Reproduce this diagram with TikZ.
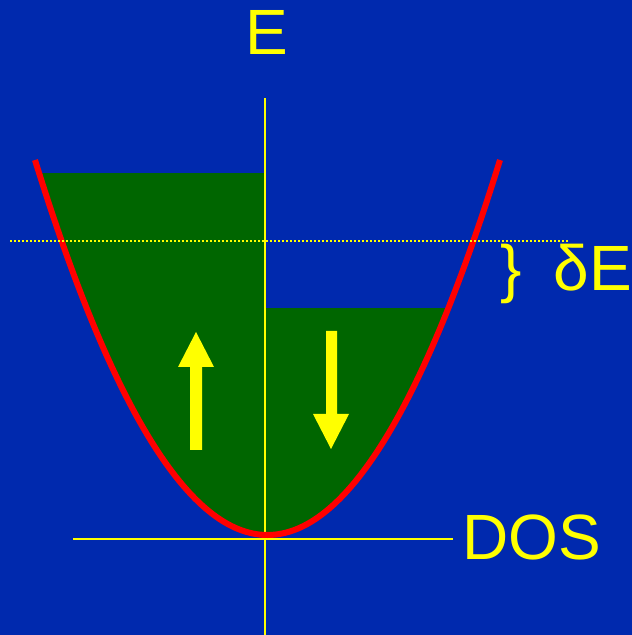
\documentclass[tikz,border=0pt]{standalone}
\usepackage{fontspec}
\setmainfont{Liberation Sans}
\definecolor{bgblue}{RGB}{0,41,174}
\definecolor{fillgreen}{RGB}{0,102,0}
\definecolor{ylw}{RGB}{255,255,0}
\definecolor{rd}{RGB}{255,0,0}
\begin{document}
\begin{tikzpicture}[x=1pt,y=1pt,
  bigtext/.style={text=ylw,font=\fontsize{64}{64}\selectfont,inner sep=0pt},
  yline/.style={draw=ylw},
  spinarrow/.style={fill=ylw,draw=none}]
\fill[bgblue] (0,0) rectangle (632,635);
\useasboundingbox (0,0) rectangle (632,635);
% green filled states, clipped by the parabola
\begin{scope}
  \clip (35,475) .. controls (190,-25) and (345,-25) .. (500,475) -- cycle;
  \fill[fillgreen] (0,0) rectangle (265,462);
  \fill[fillgreen] (265,0) rectangle (632,327);
\end{scope}
% axes
\draw[yline,line width=1.5pt] (265,0) -- (265,537);
\draw[yline,line width=2.5pt] (73,96) -- (453,96);
% parabola
\draw[rd,line width=6pt] (35,475) .. controls (190,-25) and (345,-25) .. (500,475);
% dotted Fermi level
\draw[ylw,line width=2pt,dash pattern=on 2pt off 2pt] (10,394) -- (568,394);
% spin arrows
\fill[spinarrow] (190,185) -- (202,185) -- (202,268) -- (214,268) -- (196,303) -- (178,268) -- (190,268) -- cycle;
\fill[spinarrow] (326,304) -- (337,304) -- (337,221) -- (349,221) -- (331,186) -- (313,221) -- (326,221) -- cycle;
% labels
\node[bigtext,anchor=base] (E) at (266.5,580) {E};
\node[bigtext,anchor=base west] (dos) at (462,75) {DOS};
\node[bigtext,anchor=base west] (dE) at (500,344) {\}\hspace{32pt}δE};
\end{tikzpicture}
\end{document}
